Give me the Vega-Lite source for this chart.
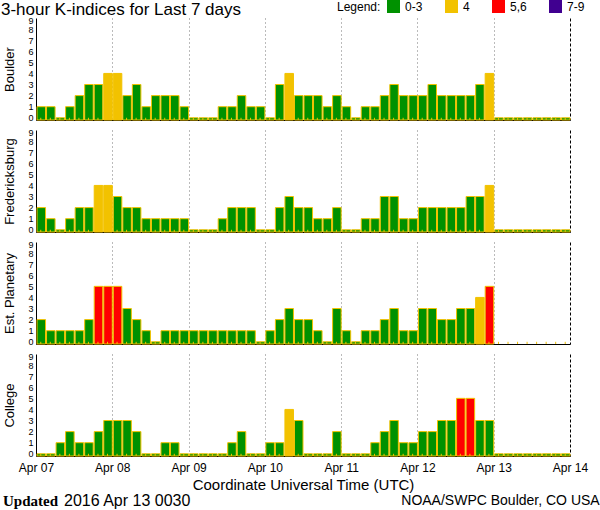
{
  "$schema": "https://vega.github.io/schema/vega-lite/v6.json",
  "padding": {"left": 0, "top": 0, "right": 0, "bottom": 0},
  "datasets": {
    "kp": [
      {"t": "2016-04-07T00:00Z", "B": 1, "F": 2, "P": 2, "C": 0},
      {"t": "2016-04-07T03:00Z", "B": 1, "F": 1, "P": 1, "C": 0},
      {"t": "2016-04-07T06:00Z", "B": 0, "F": 0, "P": 1, "C": 1},
      {"t": "2016-04-07T09:00Z", "B": 1, "F": 1, "P": 1, "C": 2},
      {"t": "2016-04-07T12:00Z", "B": 2, "F": 2, "P": 1, "C": 1},
      {"t": "2016-04-07T15:00Z", "B": 3, "F": 2, "P": 2, "C": 1},
      {"t": "2016-04-07T18:00Z", "B": 3, "F": 4, "P": 5, "C": 2},
      {"t": "2016-04-07T21:00Z", "B": 4, "F": 4, "P": 5, "C": 3},
      {"t": "2016-04-08T00:00Z", "B": 4, "F": 3, "P": 5, "C": 3},
      {"t": "2016-04-08T03:00Z", "B": 2, "F": 2, "P": 3, "C": 3},
      {"t": "2016-04-08T06:00Z", "B": 3, "F": 2, "P": 2, "C": 2},
      {"t": "2016-04-08T09:00Z", "B": 1, "F": 1, "P": 1, "C": 0},
      {"t": "2016-04-08T12:00Z", "B": 2, "F": 1, "P": 0, "C": 0},
      {"t": "2016-04-08T15:00Z", "B": 2, "F": 1, "P": 1, "C": 1},
      {"t": "2016-04-08T18:00Z", "B": 2, "F": 1, "P": 1, "C": 1},
      {"t": "2016-04-08T21:00Z", "B": 1, "F": 1, "P": 1, "C": 0},
      {"t": "2016-04-09T00:00Z", "B": 0, "F": 0, "P": 1, "C": 0},
      {"t": "2016-04-09T03:00Z", "B": 0, "F": 0, "P": 1, "C": 0},
      {"t": "2016-04-09T06:00Z", "B": 0, "F": 0, "P": 1, "C": 0},
      {"t": "2016-04-09T09:00Z", "B": 1, "F": 1, "P": 1, "C": 0},
      {"t": "2016-04-09T12:00Z", "B": 1, "F": 2, "P": 1, "C": 1},
      {"t": "2016-04-09T15:00Z", "B": 2, "F": 2, "P": 1, "C": 2},
      {"t": "2016-04-09T18:00Z", "B": 1, "F": 2, "P": 1, "C": 0},
      {"t": "2016-04-09T21:00Z", "B": 1, "F": 0, "P": 0, "C": 0},
      {"t": "2016-04-10T00:00Z", "B": 0, "F": 0, "P": 1, "C": 1},
      {"t": "2016-04-10T03:00Z", "B": 3, "F": 2, "P": 2, "C": 1},
      {"t": "2016-04-10T06:00Z", "B": 4, "F": 3, "P": 3, "C": 4},
      {"t": "2016-04-10T09:00Z", "B": 2, "F": 2, "P": 2, "C": 3},
      {"t": "2016-04-10T12:00Z", "B": 2, "F": 2, "P": 2, "C": 0},
      {"t": "2016-04-10T15:00Z", "B": 2, "F": 1, "P": 1, "C": 0},
      {"t": "2016-04-10T18:00Z", "B": 1, "F": 1, "P": 0, "C": 0},
      {"t": "2016-04-10T21:00Z", "B": 2, "F": 2, "P": 3, "C": 2},
      {"t": "2016-04-11T00:00Z", "B": 1, "F": 0, "P": 1, "C": 0},
      {"t": "2016-04-11T03:00Z", "B": 0, "F": 0, "P": 0, "C": 0},
      {"t": "2016-04-11T06:00Z", "B": 1, "F": 1, "P": 1, "C": 0},
      {"t": "2016-04-11T09:00Z", "B": 1, "F": 1, "P": 1, "C": 1},
      {"t": "2016-04-11T12:00Z", "B": 2, "F": 3, "P": 2, "C": 2},
      {"t": "2016-04-11T15:00Z", "B": 3, "F": 3, "P": 3, "C": 3},
      {"t": "2016-04-11T18:00Z", "B": 2, "F": 1, "P": 1, "C": 1},
      {"t": "2016-04-11T21:00Z", "B": 2, "F": 1, "P": 1, "C": 1},
      {"t": "2016-04-12T00:00Z", "B": 2, "F": 2, "P": 3, "C": 2},
      {"t": "2016-04-12T03:00Z", "B": 3, "F": 2, "P": 3, "C": 2},
      {"t": "2016-04-12T06:00Z", "B": 2, "F": 2, "P": 2, "C": 3},
      {"t": "2016-04-12T09:00Z", "B": 2, "F": 2, "P": 2, "C": 3},
      {"t": "2016-04-12T12:00Z", "B": 2, "F": 2, "P": 3, "C": 5},
      {"t": "2016-04-12T15:00Z", "B": 2, "F": 3, "P": 3, "C": 5},
      {"t": "2016-04-12T18:00Z", "B": 3, "F": 3, "P": 4, "C": 3},
      {"t": "2016-04-12T21:00Z", "B": 4, "F": 4, "P": 5, "C": 3},
      {"t": "2016-04-13T00:00Z", "B": 0, "F": 0, "P": null, "C": 0},
      {"t": "2016-04-13T03:00Z", "B": 0, "F": 0, "P": null, "C": 0},
      {"t": "2016-04-13T06:00Z", "B": 0, "F": 0, "P": null, "C": 0},
      {"t": "2016-04-13T09:00Z", "B": 0, "F": 0, "P": null, "C": 0},
      {"t": "2016-04-13T12:00Z", "B": 0, "F": 0, "P": null, "C": 0},
      {"t": "2016-04-13T15:00Z", "B": 0, "F": 0, "P": null, "C": 0},
      {"t": "2016-04-13T18:00Z", "B": 0, "F": 0, "P": null, "C": 0},
      {"t": "2016-04-13T21:00Z", "B": 0, "F": 0, "P": null, "C": 0}
    ]
  },
  "data": {"name": "kp"},
  "spacing": 10,
  "bounds": "flush",
  "title": {"text": "NOAA/SWPC Boulder, CO USA", "orient": "bottom", "anchor": "end", "frame": "bounds", "font": "Liberation Sans", "fontSize": 14, "fontWeight": "normal", "color": "black", "offset": 0, "dy": -15, "dx": 12},
  "config": {
    "view": {"stroke": null},
    "font": "Liberation Sans",
    "axisY": {
      "ticks": false, "labelPadding": 3, "labelFont": "Liberation Sans", "labelFontSize": 9, "labelColor": "black", "labelOverlap": false, "labelBaseline": "middle",
      "labelOffset": {"condition": {"test": "datum.value == 9", "value": 2.5}, "value": 0},
      "domainColor": "black", "domainWidth": 1, "titleFont": "Liberation Sans", "titleFontSize": 13, "titleFontWeight": "normal", "titleColor": "black", "titlePadding": 11,
      "grid": true,
      "gridColor": {"condition": {"test": "datum.value == 9", "value": "black"}, "value": "#777777"},
      "gridDash": {"condition": {"test": "datum.value == 9", "value": []}, "value": [1, 3]},
      "gridOpacity": {"condition": {"test": "datum.value == 4 || datum.value == 5 || datum.value == 7 || datum.value == 9", "value": 1}, "value": 0},
      "gridWidth": {"condition": {"test": "datum.value == 9", "value": 2}, "value": 1}
    },
    "axisX": {
      "ticks": false, "domainColor": "black", "domainWidth": 1, "grid": true, "labelFlush": false, "labelOverlap": false,
      "gridColor": {"condition": {"test": "utcdate(datum.value) == 14", "value": "black"}, "value": "#777777"},
      "gridDash": {"condition": {"test": "utcdate(datum.value) == 14", "value": [3, 2]}, "value": [1, 3]},
      "gridOpacity": {"condition": {"test": "utcdate(datum.value) == 7", "value": 0}, "value": 1},
      "labelFont": "Liberation Sans", "labelFontSize": 12, "labelColor": "black", "labelPadding": 6,
      "titleFont": "Liberation Sans", "titleFontSize": 15, "titleFontWeight": "normal", "titleColor": "black", "titlePadding": 4
    },
    "legend": {
      "orient": "none", "legendX": 301, "legendY": -18, "direction": "horizontal", "titleOrient": "left",
      "symbolType": "square", "symbolSize": 169, "symbolStrokeWidth": 0, "symbolOpacity": 1,
      "labelFont": "Liberation Sans", "labelFontSize": 12, "labelColor": "black", "labelOffset": 5, "columnPadding": 22,
      "titleFont": "Liberation Sans", "titleFontSize": 12, "titleFontWeight": "normal", "titleColor": "black", "titlePadding": 6
    }
  },
  "vconcat": [
    {
      "title": {"text": "3-hour K-indices for Last 7 days", "anchor": "start", "frame": "bounds", "font": "Liberation Sans", "fontSize": 17, "fontWeight": "normal", "color": "black", "offset": -2, "dx": -3},
      "width": 534, "height": 102,
      "transform": [{"calculate": "datum.B <= 3 ? '0-3' : datum.B <= 4 ? '4' : datum.B <= 6 ? '5,6' : '7-9'", "as": "level"}],
      "layer": [
        {"mark": {"type": "bar", "stroke": "#f2c200", "strokeWidth": 1},
         "encoding": {
           "x": {"field": "t", "type": "temporal", "timeUnit": {"unit": "utcyearmonthdatehours", "step": 3}, "title": null,
                 "scale": {"domain": [{"year": 2016, "month": 4, "date": 7, "utc": true}, {"year": 2016, "month": 4, "date": 14, "utc": true}], "nice": false},
                 "axis": {"labels": false, "title": null, "values": [{"year": 2016, "month": 4, "date": 7, "utc": true}, {"year": 2016, "month": 4, "date": 8, "utc": true}, {"year": 2016, "month": 4, "date": 9, "utc": true}, {"year": 2016, "month": 4, "date": 10, "utc": true}, {"year": 2016, "month": 4, "date": 11, "utc": true}, {"year": 2016, "month": 4, "date": 12, "utc": true}, {"year": 2016, "month": 4, "date": 13, "utc": true}, {"year": 2016, "month": 4, "date": 14, "utc": true}]}},
           "y": {"field": "B", "type": "quantitative", "title": "Boulder", "scale": {"domain": [-0.2, 9], "nice": false, "zero": false}, "axis": {"values": [0, 1, 2, 3, 4, 5, 6, 7, 8, 9], "labelOverlap": false}},
           "y2": {"datum": -0.2},
           "color": {"field": "level", "type": "nominal", "scale": {"domain": ["0-3", "4", "5,6", "7-9"], "range": ["#009100", "#f2c200", "#ff0000", "#400090"]}, "legend": {"title": "Legend:"}}
         }},
        {"mark": {"type": "rule", "color": "#f2c200", "strokeWidth": 1},
         "encoding": {
           "x": {"field": "t", "type": "temporal", "timeUnit": {"unit": "utcyearmonthdatehours", "step": 3}, "bandPosition": 0.5, "title": null},
           "y": {"datum": -0.2, "title": "Boulder", "axis": {"values": [0, 1, 2, 3, 4, 5, 6, 7, 8, 9], "labelOverlap": false}},
           "y2": {"datum": 0}
         }}
      ]
    },
    {
      "width": 534, "height": 102,
      "transform": [{"calculate": "datum.F <= 3 ? '0-3' : datum.F <= 4 ? '4' : datum.F <= 6 ? '5,6' : '7-9'", "as": "level"}],
      "layer": [
        {"mark": {"type": "bar", "stroke": "#f2c200", "strokeWidth": 1},
         "encoding": {
           "x": {"field": "t", "type": "temporal", "timeUnit": {"unit": "utcyearmonthdatehours", "step": 3}, "title": null,
                 "scale": {"domain": [{"year": 2016, "month": 4, "date": 7, "utc": true}, {"year": 2016, "month": 4, "date": 14, "utc": true}], "nice": false},
                 "axis": {"labels": false, "title": null, "values": [{"year": 2016, "month": 4, "date": 7, "utc": true}, {"year": 2016, "month": 4, "date": 8, "utc": true}, {"year": 2016, "month": 4, "date": 9, "utc": true}, {"year": 2016, "month": 4, "date": 10, "utc": true}, {"year": 2016, "month": 4, "date": 11, "utc": true}, {"year": 2016, "month": 4, "date": 12, "utc": true}, {"year": 2016, "month": 4, "date": 13, "utc": true}, {"year": 2016, "month": 4, "date": 14, "utc": true}]}},
           "y": {"field": "F", "type": "quantitative", "title": "Fredericksburg", "scale": {"domain": [-0.2, 9], "nice": false, "zero": false}, "axis": {"values": [0, 1, 2, 3, 4, 5, 6, 7, 8, 9], "labelOverlap": false}},
           "y2": {"datum": -0.2},
           "color": {"field": "level", "type": "nominal", "scale": {"domain": ["0-3", "4", "5,6", "7-9"], "range": ["#009100", "#f2c200", "#ff0000", "#400090"]}, "legend": {"title": "Legend:"}}
         }},
        {"mark": {"type": "rule", "color": "#f2c200", "strokeWidth": 1},
         "encoding": {
           "x": {"field": "t", "type": "temporal", "timeUnit": {"unit": "utcyearmonthdatehours", "step": 3}, "bandPosition": 0.5, "title": null},
           "y": {"datum": -0.2, "title": "Fredericksburg", "axis": {"values": [0, 1, 2, 3, 4, 5, 6, 7, 8, 9], "labelOverlap": false}},
           "y2": {"datum": 0}
         }}
      ]
    },
    {
      "width": 534, "height": 102,
      "transform": [{"calculate": "datum.P <= 3 ? '0-3' : datum.P <= 4 ? '4' : datum.P <= 6 ? '5,6' : '7-9'", "as": "level"}],
      "layer": [
        {"mark": {"type": "bar", "stroke": "#f2c200", "strokeWidth": 1},
         "encoding": {
           "x": {"field": "t", "type": "temporal", "timeUnit": {"unit": "utcyearmonthdatehours", "step": 3}, "title": null,
                 "scale": {"domain": [{"year": 2016, "month": 4, "date": 7, "utc": true}, {"year": 2016, "month": 4, "date": 14, "utc": true}], "nice": false},
                 "axis": {"labels": false, "title": null, "values": [{"year": 2016, "month": 4, "date": 7, "utc": true}, {"year": 2016, "month": 4, "date": 8, "utc": true}, {"year": 2016, "month": 4, "date": 9, "utc": true}, {"year": 2016, "month": 4, "date": 10, "utc": true}, {"year": 2016, "month": 4, "date": 11, "utc": true}, {"year": 2016, "month": 4, "date": 12, "utc": true}, {"year": 2016, "month": 4, "date": 13, "utc": true}, {"year": 2016, "month": 4, "date": 14, "utc": true}]}},
           "y": {"field": "P", "type": "quantitative", "title": "Est. Planetary", "scale": {"domain": [-0.2, 9], "nice": false, "zero": false}, "axis": {"values": [0, 1, 2, 3, 4, 5, 6, 7, 8, 9], "labelOverlap": false}},
           "y2": {"datum": -0.2},
           "color": {"field": "level", "type": "nominal", "scale": {"domain": ["0-3", "4", "5,6", "7-9"], "range": ["#009100", "#f2c200", "#ff0000", "#400090"]}, "legend": {"title": "Legend:"}}
         }},
        {"mark": {"type": "rule", "color": "#f2c200", "strokeWidth": 1},
         "encoding": {
           "x": {"field": "t", "type": "temporal", "timeUnit": {"unit": "utcyearmonthdatehours", "step": 3}, "bandPosition": 0.5, "title": null},
           "y": {"datum": -0.2, "title": "Est. Planetary", "axis": {"values": [0, 1, 2, 3, 4, 5, 6, 7, 8, 9], "labelOverlap": false}},
           "y2": {"datum": 0}
         }}
      ]
    },
    {
      "title": {"text": "2016 Apr 13 0030", "orient": "bottom", "anchor": "start", "frame": "bounds", "font": "Liberation Sans", "fontSize": 16, "fontWeight": "normal", "color": "black", "offset": 0, "dx": 61, "dy": -16},
      "vconcat": [
        {
          "title": {"text": "Updated", "orient": "bottom", "anchor": "start", "frame": "bounds", "font": "Liberation Serif", "fontSize": 15, "fontWeight": "bold", "color": "black", "offset": 2, "dx": -1},
          "width": 534, "height": 102,
          "transform": [{"calculate": "datum.C <= 3 ? '0-3' : datum.C <= 4 ? '4' : datum.C <= 6 ? '5,6' : '7-9'", "as": "level"}],
          "layer": [
            {"mark": {"type": "bar", "stroke": "#f2c200", "strokeWidth": 1},
             "encoding": {
               "x": {"field": "t", "type": "temporal", "timeUnit": {"unit": "utcyearmonthdatehours", "step": 3}, "title": "Coordinate Universal Time (UTC)",
                     "scale": {"domain": [{"year": 2016, "month": 4, "date": 7, "utc": true}, {"year": 2016, "month": 4, "date": 14, "utc": true}], "nice": false},
                     "axis": {"format": "%b %d", "title": "Coordinate Universal Time (UTC)", "values": [{"year": 2016, "month": 4, "date": 7, "utc": true}, {"year": 2016, "month": 4, "date": 8, "utc": true}, {"year": 2016, "month": 4, "date": 9, "utc": true}, {"year": 2016, "month": 4, "date": 10, "utc": true}, {"year": 2016, "month": 4, "date": 11, "utc": true}, {"year": 2016, "month": 4, "date": 12, "utc": true}, {"year": 2016, "month": 4, "date": 13, "utc": true}, {"year": 2016, "month": 4, "date": 14, "utc": true}]}},
               "y": {"field": "C", "type": "quantitative", "title": "College", "scale": {"domain": [-0.2, 9], "nice": false, "zero": false}, "axis": {"values": [0, 1, 2, 3, 4, 5, 6, 7, 8, 9], "labelOverlap": false}},
               "y2": {"datum": -0.2},
               "color": {"field": "level", "type": "nominal", "scale": {"domain": ["0-3", "4", "5,6", "7-9"], "range": ["#009100", "#f2c200", "#ff0000", "#400090"]}, "legend": {"title": "Legend:"}}
             }},
            {"mark": {"type": "rule", "color": "#f2c200", "strokeWidth": 1},
             "encoding": {
               "x": {"field": "t", "type": "temporal", "timeUnit": {"unit": "utcyearmonthdatehours", "step": 3}, "bandPosition": 0.5, "title": "Coordinate Universal Time (UTC)"},
               "y": {"datum": -0.2, "title": "College", "axis": {"values": [0, 1, 2, 3, 4, 5, 6, 7, 8, 9], "labelOverlap": false}},
               "y2": {"datum": 0}
             }}
          ]
        }
      ]
    }
  ]
}
